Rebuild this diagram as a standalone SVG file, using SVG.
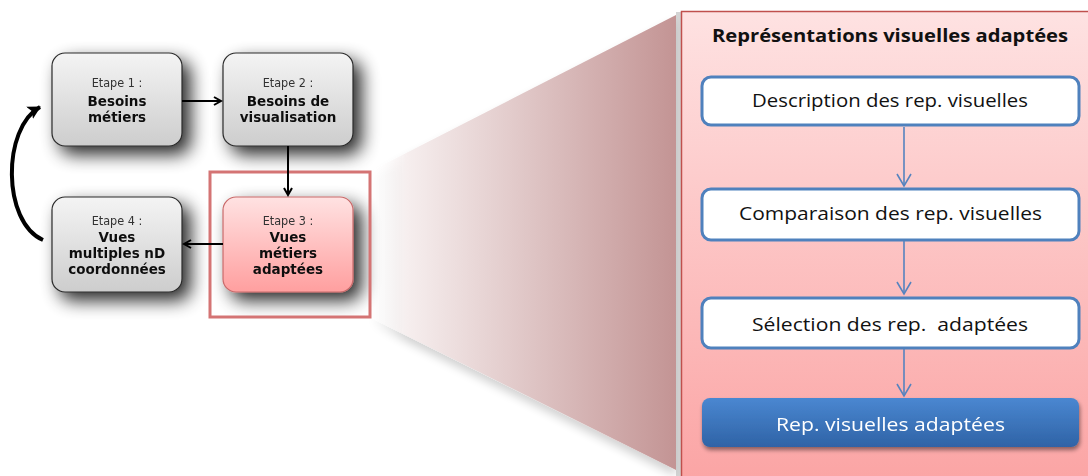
<svg xmlns="http://www.w3.org/2000/svg" width="1088" height="476" viewBox="0 0 1088 476">
<defs>
<style>
.step{font-family:"DejaVu Sans Condensed","DejaVu Sans",sans-serif;font-size:12.5px;fill:#333;text-anchor:middle}
.bold{font-family:"DejaVu Sans","Liberation Sans",sans-serif;font-weight:bold;font-size:13.5px;fill:#111;text-anchor:middle}
.rt{font-family:"Open Sans",Lato,sans-serif;font-size:17.5px;fill:#111;text-anchor:middle}
.conn{stroke:#000;stroke-width:2;fill:none}
.bconn{stroke:#5583bf;stroke-width:1.6;fill:none}
.gbox{fill:url(#gGray);stroke:#2a2a2a;stroke-width:1.2}
.wbox{fill:#fff;stroke:#4f81bd;stroke-width:3}
</style>
<linearGradient id="gGray" x1="0" y1="0" x2="0" y2="1"><stop offset="0" stop-color="#f4f4f4"/><stop offset="1" stop-color="#cdcdcd"/></linearGradient>
<linearGradient id="gPink" x1="0" y1="0" x2="0" y2="1"><stop offset="0" stop-color="#ffe2e2"/><stop offset="1" stop-color="#ff9f9f"/></linearGradient>
<linearGradient id="gPanel" x1="0" y1="0" x2="0" y2="1"><stop offset="0" stop-color="#fee2e2"/><stop offset="1" stop-color="#fba3a3"/></linearGradient>
<linearGradient id="gBlue" x1="0" y1="0" x2="0" y2="1"><stop offset="0" stop-color="#4a87d1"/><stop offset="1" stop-color="#2f63a6"/></linearGradient>
<linearGradient id="gTrap" x1="371" y1="0" x2="676" y2="0" gradientUnits="userSpaceOnUse"><stop offset="0" stop-color="#ffffff" stop-opacity="0"/><stop offset="0.12" stop-color="#f6eeee"/><stop offset="1" stop-color="#c39494"/></linearGradient>
<filter id="shadow" x="-40%" y="-40%" width="190%" height="190%"><feGaussianBlur in="SourceAlpha" stdDeviation="9"/><feOffset dx="8" dy="8" result="b"/><feComponentTransfer><feFuncA type="linear" slope="0.85"/></feComponentTransfer><feMerge><feMergeNode/><feMergeNode in="SourceGraphic"/></feMerge></filter>
<filter id="sshadow" x="-10%" y="-30%" width="120%" height="170%"><feGaussianBlur in="SourceAlpha" stdDeviation="2"/><feOffset dx="1" dy="3"/><feComponentTransfer><feFuncA type="linear" slope="0.45"/></feComponentTransfer><feMerge><feMergeNode/><feMergeNode in="SourceGraphic"/></feMerge></filter>
<filter id="tshadow" x="-10%" y="-10%" width="120%" height="130%"><feGaussianBlur in="SourceAlpha" stdDeviation="5"/><feOffset dx="0" dy="6"/><feComponentTransfer><feFuncA type="linear" slope="0.18"/></feComponentTransfer><feMerge><feMergeNode/><feMergeNode in="SourceGraphic"/></feMerge></filter>
<marker id="ah" markerWidth="10" markerHeight="10" refX="8" refY="5" orient="auto" markerUnits="userSpaceOnUse"><path d="M1,1 L8,5 L1,9" fill="none" stroke="#000" stroke-width="2"/></marker>
<marker id="bah" markerWidth="20" markerHeight="20" refX="16" refY="8" orient="auto" markerUnits="userSpaceOnUse"><path d="M4,1 L16,8 L4,15" fill="none" stroke="#5583bf" stroke-width="1.6"/></marker>
<marker id="cah" markerWidth="16" markerHeight="16" refX="12" refY="8" orient="auto" markerUnits="userSpaceOnUse"><path d="M0,1 L13,8 L0,15 L3,8 Z" fill="#000"/></marker>
</defs>
<rect width="1088" height="476" fill="#fff"/>

<g id="zoom-trapezoid" filter="url(#tshadow)">
<polygon points="371,171 676,15 676,470 371,318" fill="url(#gTrap)"/>
</g>
<rect x="676" y="12" width="5" height="464" fill="#b8b8b8" opacity="0.6"/>

<g id="panel">
<rect x="681.5" y="11.5" width="420" height="480" fill="url(#gPanel)" stroke="#c0504d" stroke-width="1.5"/>
<text x="890" y="42" class="rt" font-weight="bold" font-size="19" textLength="356" lengthAdjust="spacingAndGlyphs">Représentations visuelles adaptées</text>
</g>

<g id="n-step1" filter="url(#shadow)">
<rect x="52" y="53" width="130" height="93" rx="13" class="gbox"/>
<text x="117" y="87" class="step">Etape 1 :</text>
<text x="117" y="106" class="bold">Besoins</text>
<text x="117" y="122" class="bold">métiers</text>
</g>
<g id="n-step2" filter="url(#shadow)">
<rect x="223" y="53" width="130" height="93" rx="13" class="gbox"/>
<text x="288" y="87" class="step">Etape 2 :</text>
<text x="288" y="106" class="bold">Besoins de</text>
<text x="288" y="122" class="bold">visualisation</text>
</g>
<g id="n-step4" filter="url(#shadow)">
<rect x="52" y="197" width="130" height="95" rx="13" class="gbox"/>
<text x="117" y="225" class="step">Etape 4 :</text>
<text x="117" y="242" class="bold">Vues</text>
<text x="117" y="258" class="bold">multiples nD</text>
<text x="117" y="274" class="bold">coordonnées</text>
</g>
<g id="n-step3" filter="url(#shadow)">
<rect x="223" y="197" width="130" height="95" rx="13" fill="url(#gPink)" stroke="#c86a6a" stroke-width="1.2"/>
<text x="288" y="225" class="step">Etape 3 :</text>
<text x="288" y="242" class="bold">Vues</text>
<text x="288" y="258" class="bold">métiers</text>
<text x="288" y="274" class="bold">adaptées</text>
</g>
<g id="highlight">
<rect x="210" y="172" width="160" height="145" fill="none" stroke="#d47474" stroke-width="3"/>
</g>

<g id="n-desc">
<rect x="702" y="77" width="377" height="48" rx="9" class="wbox"/>
<text x="890" y="107" class="rt" textLength="276" lengthAdjust="spacingAndGlyphs">Description des rep. visuelles</text>
</g>
<g id="n-comp">
<rect x="702" y="189" width="377" height="51" rx="9" class="wbox"/>
<text x="890.5" y="220" class="rt" textLength="303" lengthAdjust="spacingAndGlyphs">Comparaison des rep. visuelles</text>
</g>
<g id="n-sel">
<rect x="702" y="298" width="377" height="50" rx="9" class="wbox"/>
<text x="890" y="331" class="rt" textLength="276" lengthAdjust="spacingAndGlyphs" xml:space="preserve">Sélection des rep.  adaptées</text>
</g>
<g id="n-result" filter="url(#sshadow)">
<rect x="702" y="398" width="377" height="49" rx="8" fill="url(#gBlue)"/>
<text x="890.5" y="431" class="rt" style="fill:#fff" textLength="229" lengthAdjust="spacingAndGlyphs">Rep. visuelles adaptées</text>
</g>

<g id="connectors">
<line x1="182" y1="101" x2="221" y2="101" class="conn" marker-end="url(#ah)"/>
<line x1="288" y1="146" x2="288" y2="195" class="conn" marker-end="url(#ah)"/>
<line x1="223" y1="244" x2="184" y2="244" class="conn" marker-end="url(#ah)"/>
<path d="M43,240 C2,222 2,128 40,107" fill="none" stroke="#000" stroke-width="4" marker-end="url(#cah)"/>
<line x1="904" y1="127" x2="904" y2="186" class="bconn" marker-end="url(#bah)"/>
<line x1="904" y1="241" x2="904" y2="294" class="bconn" marker-end="url(#bah)"/>
<line x1="904" y1="349" x2="904" y2="396" class="bconn" marker-end="url(#bah)"/>
</g>
</svg>
